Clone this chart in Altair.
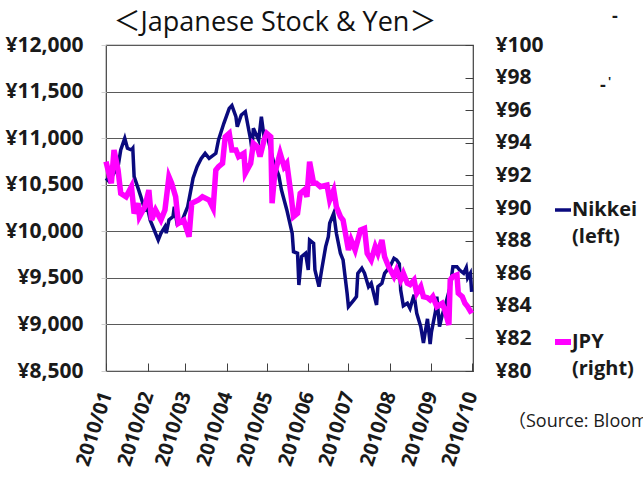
import altair as alt
import pandas as pd

# ---- data ----
nikkei_dates = [
    "2010-01-01", "2010-01-03", "2010-01-06", "2010-01-10", "2010-01-12", "2010-01-15",
    "2010-01-17", "2010-01-20", "2010-01-21", "2010-01-22", "2010-01-25", "2010-01-27",
    "2010-01-30", "2010-02-01", "2010-02-03", "2010-02-06", "2010-02-09", "2010-02-11",
    "2010-02-14", "2010-02-15", "2010-02-17", "2010-02-20", "2010-02-21", "2010-02-23",
    "2010-02-27", "2010-03-03", "2010-03-07", "2010-03-10", "2010-03-13", "2010-03-16",
    "2010-03-19", "2010-03-24", "2010-03-26", "2010-03-30", "2010-04-03", "2010-04-05",
    "2010-04-08", "2010-04-09", "2010-04-12", "2010-04-15", "2010-04-19", "2010-04-20",
    "2010-04-21", "2010-04-25", "2010-04-27", "2010-04-29", "2010-05-02", "2010-05-06",
    "2010-05-10", "2010-05-12", "2010-05-16", "2010-05-20", "2010-05-21", "2010-05-24",
    "2010-05-25", "2010-05-27", "2010-05-30", "2010-06-01", "2010-06-02", "2010-06-05",
    "2010-06-06", "2010-06-09", "2010-06-11", "2010-06-14", "2010-06-16", "2010-06-17",
    "2010-06-20", "2010-06-22", "2010-06-25", "2010-06-27", "2010-06-30", "2010-07-01",
    "2010-07-05", "2010-07-07", "2010-07-08", "2010-07-11", "2010-07-13", "2010-07-16",
    "2010-07-18", "2010-07-22", "2010-07-23", "2010-07-26", "2010-07-28", "2010-08-01",
    "2010-08-04", "2010-08-06", "2010-08-08", "2010-08-09", "2010-08-11", "2010-08-14",
    "2010-08-16", "2010-08-19", "2010-08-21", "2010-08-24", "2010-08-26", "2010-08-28",
    "2010-08-29", "2010-08-31", "2010-09-01", "2010-09-04", "2010-09-05", "2010-09-07",
    "2010-09-09", "2010-09-11", "2010-09-15", "2010-09-17", "2010-09-20", "2010-09-22",
    "2010-09-25", "2010-09-27", "2010-09-28", "2010-09-30", "2010-10-01",
]
nikkei_values = [
    10570, 10540, 10600, 10694, 10873, 10998,
    10891, 10873, 10891, 10587, 10461, 10372,
    10229, 10250, 10120, 10014, 9906, 9979,
    10050, 9979, 10121, 10157, 10264, 10086,
    10121, 10264, 10569, 10694, 10780, 10837,
    10783, 10837, 10980, 11159, 11320, 11350,
    11230, 11123, 11249, 11284, 10980, 10873,
    11106, 10980, 11230, 11016, 10990, 10750,
    10600, 10443, 10229, 9979, 9781, 9764,
    9423, 9727, 9764, 9584, 9906, 9871,
    9584, 9405, 9584, 9835, 9942, 10086,
    10193, 9979, 9764, 9692, 9334, 9191,
    9262, 9298, 9549, 9603, 9549, 9405,
    9442, 9209, 9405, 9442, 9549, 9620,
    9710, 9692, 9650, 9370, 9200, 9227,
    9170, 9320, 9119, 8976, 8800, 8976,
    9060, 8790, 8920, 9140, 9298, 8976,
    9101, 9191, 9405, 9620, 9620, 9584,
    9549, 9610, 9500, 9549, 9350,
]

jpy_dates = [
    "2010-01-01", "2010-01-05", "2010-01-07", "2010-01-10", "2010-01-12", "2010-01-16",
    "2010-01-20", "2010-01-22", "2010-01-25", "2010-01-26", "2010-01-30", "2010-02-02",
    "2010-02-04", "2010-02-07", "2010-02-11", "2010-02-14", "2010-02-17", "2010-02-19",
    "2010-02-22", "2010-02-24", "2010-02-28", "2010-03-04", "2010-03-06", "2010-03-11",
    "2010-03-14", "2010-03-19", "2010-03-22", "2010-03-24", "2010-03-26", "2010-03-29",
    "2010-03-31", "2010-04-03", "2010-04-05", "2010-04-08", "2010-04-10", "2010-04-14",
    "2010-04-15", "2010-04-19", "2010-04-21", "2010-04-24", "2010-04-26", "2010-04-29",
    "2010-05-01", "2010-05-04", "2010-05-05", "2010-05-07", "2010-05-11", "2010-05-14",
    "2010-05-16", "2010-05-19", "2010-05-21", "2010-05-24", "2010-05-26", "2010-05-29",
    "2010-05-31", "2010-06-02", "2010-06-05", "2010-06-07", "2010-06-10", "2010-06-15",
    "2010-06-17", "2010-06-20", "2010-06-22", "2010-06-25", "2010-06-27", "2010-07-01",
    "2010-07-03", "2010-07-06", "2010-07-10", "2010-07-13", "2010-07-15", "2010-07-18",
    "2010-07-21", "2010-07-23", "2010-07-26", "2010-07-28", "2010-07-31", "2010-08-04",
    "2010-08-06", "2010-08-09", "2010-08-11", "2010-08-14", "2010-08-16", "2010-08-19",
    "2010-08-21", "2010-08-24", "2010-08-26", "2010-08-29", "2010-08-31", "2010-09-02",
    "2010-09-05", "2010-09-09", "2010-09-11", "2010-09-14", "2010-09-15", "2010-09-17",
    "2010-09-20", "2010-09-21", "2010-09-24", "2010-09-26", "2010-09-28", "2010-10-01",
]
jpy_values = [
    92.84, 91.52, 93.56, 92.33, 90.90, 90.69,
    91.31, 89.67, 90.29, 89.47, 90.08, 91.10,
    89.26, 89.88, 89.26, 89.88, 91.92, 91.52,
    90.69, 89.06, 89.26, 88.24, 90.29, 90.49,
    90.69, 90.49, 89.98, 92.33, 92.53, 92.74,
    94.37, 94.58, 93.56, 93.56, 93.15, 93.36,
    92.13, 92.74, 93.97, 93.76, 93.15, 94.17,
    94.58, 94.37, 90.29, 92.13, 93.36, 92.53,
    92.74, 90.90, 89.47, 89.67, 90.90, 91.10,
    90.69, 92.84, 91.52, 91.52, 91.31, 91.41,
    90.49, 91.10, 90.08, 89.47, 89.26, 87.42,
    88.04, 87.42, 88.65, 88.75, 87.22, 86.81,
    87.63, 87.22, 88.04, 87.01, 86.40, 85.79,
    86.20, 85.58, 85.99, 85.38, 85.30, 85.58,
    84.77, 85.17, 84.56, 84.50, 84.36, 84.56,
    83.95, 84.15, 83.74, 82.82, 85.58, 85.79,
    85.89, 84.77, 84.56, 84.15, 83.95, 83.54,
]

left_ticks = [8500, 9000, 9500, 10000, 10500, 11000, 11500, 12000]
right_ticks = [80, 82, 84, 86, 88, 90, 92, 94, 96, 98, 100]
month_ticks = [alt.DateTime(year=2010, month=m, date=1) for m in range(1, 11)]

title_text = "＜Japanese Stock & Yen＞"
source_text = "（Source: Bloomberg）"

nk = pd.DataFrame({"date": [d + "T00:00:00" for d in nikkei_dates], "value": nikkei_values})
jp = pd.DataFrame({"date": [d + "T00:00:00" for d in jpy_dates], "value": jpy_values})

FONT = "Open Sans, Noto Sans CJK JP, sans-serif"
LABEL = "#1a1a1a"
NAVY = "#0a0a7e"
MAGENTA = "#ff00ff"

x_enc = alt.X(
    "date:T",
    scale=alt.Scale(domain=[alt.DateTime(year=2010, month=1, date=1),
                            alt.DateTime(year=2010, month=10, date=2)]),
    axis=alt.Axis(values=month_ticks, format="%Y/%m", labelAngle=288, title=None,
                  grid=False, domain=False, offset=-8, tickSize=8, tickColor="#404040",
                  labelPadding=21, labelFont=FONT, labelFontSize=20, labelFontWeight="bold",
                  labelColor=LABEL, labelOverlap=False, labelBound=False, labelFlush=False),
)

nikkei_line = alt.Chart(nk).mark_line(color=NAVY, strokeWidth=3.5).encode(
    x=x_enc,
    y=alt.Y("value:Q",
            scale=alt.Scale(domain=[8500, 12000], nice=False, zero=False),
            axis=alt.Axis(orient="left", values=left_ticks, title=None, grid=True,
                          gridColor="#5a5a5a", gridWidth=1.2, domain=False,
                          tickSize=5, tickColor="#d0d0d0", labelPadding=18,
                          labelExpr="'¥' + format(datum.value, ',')",
                          labelFont=FONT, labelFontSize=21, labelFontWeight="bold",
                          labelColor=LABEL)),
)

jpy_line = alt.Chart(jp).mark_line(color=MAGENTA, strokeWidth=5.5).encode(
    x=alt.X("date:T"),
    y=alt.Y("value:Q",
            scale=alt.Scale(domain=[80, 100], nice=False, zero=False),
            axis=alt.Axis(orient="right", values=right_ticks, title=None, grid=False,
                          domain=False, offset=-8, tickSize=8, tickColor="#404040",
                          labelPadding=22, labelExpr="'¥' + datum.value",
                          labelFont=FONT, labelFontSize=21, labelFontWeight="bold",
                          labelColor=LABEL)),
)

blank = alt.Data(values=[{}])

def txt(s, x, y, size, weight="bold", align="left", color=LABEL):
    return alt.Chart(blank).mark_text(
        font=FONT, fontSize=size, fontWeight=weight, align=align, baseline="middle",
        color=color
    ).encode(x=alt.value(x), y=alt.value(y), text=alt.value(s))

# plot origin is at (106, 45) in the page
title = txt(title_text, 169, -22, 27, weight="normal", align="center", color="#111111")
leg_nk_line = alt.Chart(blank).mark_rule(color=NAVY, strokeWidth=3.5).encode(
    x=alt.value(449), x2=alt.value(465), y=alt.value(165))
leg_jp_line = alt.Chart(blank).mark_rule(color=MAGENTA, strokeWidth=6).encode(
    x=alt.value(449), x2=alt.value(465), y=alt.value(297))
leg1 = txt("Nikkei", 466, 165, 20)
leg2 = txt("(left)", 466, 192, 20)
leg3 = txt("JPY", 466, 297, 20)
leg4 = txt("(right)", 466, 324, 20)
src = txt(source_text, 402, 377, 18, weight="normal")
dash1 = txt("-", 506, -28, 18)
dash2 = txt("-", 494, 41, 18)
dash3 = txt("'", 502, 37, 12)

chart = alt.layer(
    nikkei_line, jpy_line, title, leg_nk_line, leg_jp_line,
    leg1, leg2, leg3, leg4, src, dash1, dash2, dash3
).resolve_scale(y="independent").properties(
    width=367, height=326,
    autosize=alt.AutoSizeParams(type="none"),
    padding={"left": 106, "top": 45, "right": 170, "bottom": 106},
    background="white",
).configure_view(stroke="#404040", strokeWidth=1.2)

chart.save("out.html", embed_options={"renderer": "svg", "actions": False})
